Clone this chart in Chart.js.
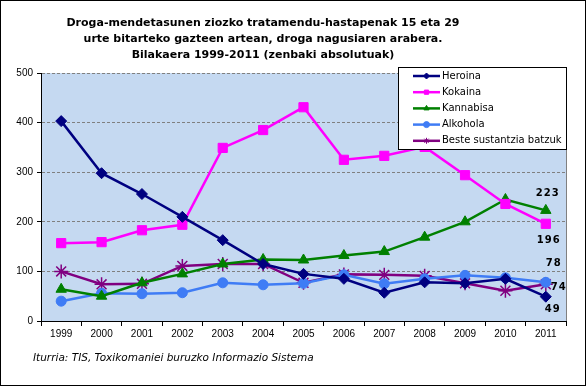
<!DOCTYPE html>
<html lang="eu">
<head>
<meta charset="UTF-8">
<title>Droga-mendetasuna</title>
<script src="https://cdn.jsdelivr.net/npm/chart.js"></script>
<style>
    body { margin: 0; background: #fff; }
    .frame {
        width: 586px; height: 386px; box-sizing: border-box;
        border: 1px solid #000; position: relative;
    }
    canvas { display: block; }
</style>
</head>
<body>
<div class="frame">
    <canvas id="chart" width="584" height="384"></canvas>
</div>
<script>
    // datuak
    const years = ['1999', '2000', '2001', '2002', '2003', '2004', '2005', '2006', '2007', '2008', '2009', '2010', '2011'];
    const heroina = [403, 298, 256, 210, 163, 115, 95, 85, 57, 78, 76, 85, 49];
    const kokaina = [157, 159, 183, 194, 349, 385, 431, 325, 333, 351, 294, 236, 196];
    const kannabisa = [64, 50, 77, 95, 115, 124, 123, 132, 140, 169, 200, 245, 223];
    const alkohola = [40, 56, 55, 57, 77, 73, 76, 93, 75, 85, 92, 87, 78];
    const beste = [100, 74, 75, 111, 115, 115, 77, 94, 93, 91, 76, 61, 74];

    const titleLines = [
        'Droga-mendetasunen ziozko tratamendu-hastapenak 15 eta 29',
        'urte bitarteko gazteen artean, droga nagusiaren arabera.',
        'Bilakaera 1999-2011 (zenbaki absolutuak)'
    ];
    const sourceText = 'Iturria: TIS, Toxikomaniei buruzko Informazio Sistema';

    // 2011 balioen etiketak: datasetIndex, dx, dy
    const endLabels = [
        [2, 2, -17],
        [1, 3, 17],
        [3, 8, -19],
        [4, 13, 3],
        [0, 7, 13]
    ];

    const extras = {
        id: 'extras',
        beforeDraw(chart) {
            const { ctx, chartArea: a } = chart;
            ctx.save();
            ctx.fillStyle = '#c5d9f1';
            ctx.fillRect(a.left, a.top, a.right - a.left, a.bottom - a.top);
            ctx.strokeStyle = '#808080';
            ctx.lineWidth = 1;
            ctx.beginPath();
            ctx.moveTo(a.right + 0.5, a.top);
            ctx.lineTo(a.right + 0.5, a.bottom);
            ctx.stroke();
            ctx.restore();
        },
        afterDraw(chart) {
            const { ctx } = chart;
            ctx.save();
            // izenburua
            ctx.fillStyle = '#000';
            ctx.font = 'bold 11px "DejaVu Sans"';
            ctx.textAlign = 'center';
            ctx.textBaseline = 'middle';
            titleLines.forEach((t, i) => ctx.fillText(t, 262, 22 + i * 16));

            // iturria
            ctx.font = 'italic 10.5px "DejaVu Sans"';
            ctx.textAlign = 'left';
            ctx.fillText(sourceText, 32, 357);

            // 2011 etiketak
            ctx.font = 'bold 10px "DejaVu Sans"';
            ctx.letterSpacing = '1px';
            ctx.textAlign = 'center';
            const last = years.length - 1;
            endLabels.forEach(([di, dx, dy]) => {
                const pt = chart.getDatasetMeta(di).data[last];
                const v = chart.data.datasets[di].data[last];
                ctx.fillText(String(v), pt.x + dx, pt.y + dy);
            });
            ctx.letterSpacing = '0px';

            // legenda
            const lx = 397, ly = 66, lw = 168, lh = 82;
            ctx.fillStyle = '#fff';
            ctx.fillRect(lx, ly, lw, lh);
            ctx.strokeStyle = '#000';
            ctx.lineWidth = 1;
            ctx.strokeRect(lx + 0.5, ly + 0.5, lw, lh);
            ctx.font = '10px "DejaVu Sans"';
            ctx.textAlign = 'left';
            chart.data.datasets.forEach((ds, i) => {
                const y = ly + 9 + i * 16.2;
                ctx.strokeStyle = ds.borderColor;
                ctx.lineWidth = 2.5;
                ctx.beginPath();
                ctx.moveTo(lx + 15, y);
                ctx.lineTo(lx + 42, y);
                ctx.stroke();
                ctx.fillStyle = ds.backgroundColor;
                ctx.lineWidth = 1;
                Chart.helpers.drawPoint(ctx, { pointStyle: ds.pointStyle, radius: 3, rotation: 0, borderWidth: 1 }, lx + 28.5, y);
                ctx.fillStyle = '#000';
                ctx.fillText(ds.label, lx + 44, y);
            });
            ctx.restore();
        }
    };

    function series(label, data, color, style, radius, width) {
        return {
            label: label,
            data: data,
            borderColor: color,
            backgroundColor: color,
            pointStyle: style,
            pointRadius: radius,
            pointBorderWidth: style === 'star' ? 1.5 : 1,
            borderWidth: width,
            tension: 0
        };
    }

    new Chart(document.getElementById('chart'), {
        type: 'line',
        data: {
            labels: years,
            datasets: [
                series('Heroina', heroina, '#000080', 'rectRot', 5.5, 2.5),
                series('Kokaina', kokaina, '#ff00ff', 'rect', 6.5, 2.5),
                series('Kannabisa', kannabisa, '#008000', 'triangle', 6, 2.5),
                series('Alkohola', alkohola, '#3f7cf5', 'circle', 5, 2.5),
                series('Beste sustantzia batzuk', beste, '#800080', 'star', 7, 2.5)
            ]
        },
        options: {
            responsive: false,
            animation: false,
            layout: { padding: { top: 72, right: 19, left: 0, bottom: 0 } },
            plugins: {
                legend: { display: false },
                title: { display: false },
                tooltip: { enabled: false }
            },
            scales: {
                x: {
                    offset: true,
                    afterFit(s) { s.height = 64; },
                    grid: {
                        offset: true, drawOnChartArea: false, drawTicks: true,
                        tickLength: 5, tickColor: '#000'
                    },
                    border: { color: '#000', width: 1 },
                    ticks: {
                        color: '#000', padding: 2, maxRotation: 0,
                        font: { family: '"Liberation Sans"', size: 10 }
                    }
                },
                y: {
                    min: 0, max: 500,
                    afterFit(s) { s.width = 40; },
                    grid: {
                        color: '#808080', tickBorderDash: [],
                        tickColor: '#000', tickLength: 4, lineWidth: 1
                    },
                    border: { color: '#000', width: 1, dash: [3, 2] },
                    ticks: {
                        stepSize: 100, color: '#000', padding: 4,
                        font: { family: '"Liberation Sans"', size: 10 }
                    }
                }
            }
        },
        plugins: [extras]
    });
</script>
</body>
</html>
